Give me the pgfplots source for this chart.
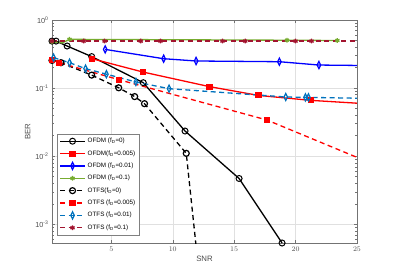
\documentclass[border=0pt]{standalone}
\usepackage{fontspec}
\setmainfont{Liberation Sans}
\usepackage{pgfplots}
\pgfplotsset{compat=1.18}
\definecolor{mgreen}{rgb}{0.466,0.674,0.188}
\definecolor{mblue}{rgb}{0,0.447,0.741}
\definecolor{mdred}{rgb}{0.635,0.078,0.184}
\begin{document}
\begin{tikzpicture}
\useasboundingbox (-52pt,-31pt) rectangle (342pt,243pt);
\begin{axis}[
  at={(0pt,0pt)}, anchor=south west,
  scale only axis, width=305pt, height=223pt,
  ymode=log, log basis y=10,
  xmin=0.17, xmax=25, ymin=5.3e-4, ymax=1,
  xtick={5,10,15,20,25},
  yticklabel={10\textsuperscript{\pgfmathparse{int(round(\tick))}\pgfmathresult}},
  tick label style={font=\fontsize{7.3}{8}\selectfont, text=black!70},
  label style={font=\fontsize{7.8}{9}\selectfont, text=black!70},
  xlabel={SNR}, ylabel={BER},
  xlabel style={yshift=2pt},
  ylabel style={yshift=-2pt},
  axis line style={black!55},
  every tick/.style={black!55},
  major tick length=3pt, minor tick length=1.6pt,
  grid=major, major grid style={black!12, line width=0.4pt},
  clip marker paths=false,
  legend cell align=left,
  legend style={at={(rel axis cs:0.017,0.036)}, anchor=south west,
    font=\fontsize{6.3}{7}\selectfont, draw=black!50, fill=white,
    inner sep=2pt, row sep=2.3pt,
    /tikz/every even column/.append style={column sep=1pt}},
  legend image code/.code={\draw[mark indices={2}] plot coordinates {(0pt,0pt) (12.5pt,0pt) (25pt,0pt)};},
]
% OFDM fD=0
\addplot[black, line width=1.3pt, mark=o, mark size=3pt, mark options={solid,line width=1pt}]
coordinates {(0.17,0.49) (0.5,0.49) (1.4,0.415) (3.4,0.29) (7.6,0.12) (11.0,0.0234) (15.4,0.0047) (18.9,5.3e-4)};
\addlegendentry{OFDM (f\textsubscript{D}=0)}
% OFDM fD=0.005
\addplot[red, line width=1.3pt, mark=square*, mark size=2.4pt, mark options={solid,fill=red}, mark indices={1,2,3,4,5}]
coordinates {(3.43,0.27) (7.58,0.172) (12.99,0.105) (16.98,0.078) (21.24,0.066) (25,0.06)};
\addlegendentry{OFDM(f\textsubscript{D}=0.005)}
% OFDM fD=0.01
\addplot[blue, line width=1.3pt, mark=diamond, mark size=3.6pt, mark options={solid,xscale=0.65,line width=1.2pt}, mark indices={1,2,3,4,5}]
coordinates {(4.5,0.37) (9.26,0.27) (11.9,0.25) (18.68,0.244) (21.9,0.218) (25,0.215)};
\addlegendentry{OFDM (f\textsubscript{D}=0.01)}
% OFDM fD=0.1
\addplot[mgreen, line width=1.3pt, mark=asterisk, mark size=2.4pt, mark options={solid}, mark indices={1,3,4,5}]
coordinates {(0.17,0.48) (1.0,0.46) (1.6,0.52) (19.3,0.505) (23.4,0.50)};
\addlegendentry{OFDM (f\textsubscript{D}=0.1)}
% OTFS fD=0
\addplot[black, line width=1.3pt, dash pattern=on 5pt off 3.5pt, mark=o, mark size=3pt, mark options={solid,line width=1.2pt}, mark indices={1,2,3,4,5,6,7}]
coordinates {(0.17,0.255) (0.9,0.236) (3.4,0.155) (5.6,0.101) (6.9,0.075) (7.7,0.059) (11.1,0.011) (12.3,1e-4)};
\addlegendentry{OTFS(f\textsubscript{D}=0)}
% OTFS fD=0.005
\addplot[red, line width=1.3pt, dash pattern=on 5pt off 3.5pt, mark=square*, mark size=2.4pt, mark options={solid,fill=red}, mark indices={1,2,3,4}]
coordinates {(0.17,0.26) (0.75,0.236) (5.6,0.133) (17.66,0.034) (25,0.0096)};
\addlegendentry{OTFS (f\textsubscript{D}=0.005)}
% OTFS fD=0.01
\addplot[mblue, line width=1.3pt, dash pattern=on 5pt off 3.5pt, mark=diamond, mark size=3.6pt, mark options={solid,xscale=0.65,line width=1.2pt}, mark indices={1,2,3,4,5,6,7,8,9}]
coordinates {(0.3,0.28) (1.6,0.236) (2.9,0.193) (4.6,0.16) (7.0,0.123) (9.7,0.098) (19.2,0.074) (20.8,0.073) (21.05,0.073) (25,0.071)};
\addlegendentry{OTFS (f\textsubscript{D}=0.01)}
% OTFS fD=0.1
\addplot[mdred, line width=1.3pt, dash pattern=on 5pt off 3.5pt, mark=asterisk, mark size=2.4pt, mark options={solid}, mark indices={1,2,3,4,5,6,7,8,9}]
coordinates {(0.17,0.49) (2.75,0.49) (4.45,0.49) (7.4,0.49) (9.0,0.49) (14.05,0.49) (15.9,0.49) (20.0,0.49) (21.3,0.49) (25,0.49)};
\addlegendentry{OTFS (f\textsubscript{D}=0.1)}
\end{axis}
\end{tikzpicture}
\end{document}
